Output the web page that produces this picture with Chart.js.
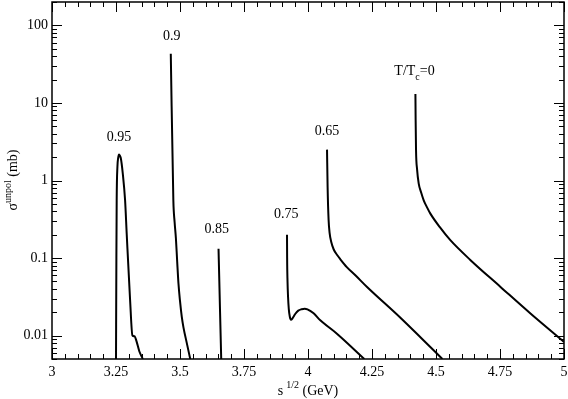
<!DOCTYPE html>
<html>
<head>
<meta charset="utf-8">
<script src="https://cdn.jsdelivr.net/npm/chart.js@4"></script>
<style>
  body { margin: 0; background: #fff; }
  #wrap { width: 568px; height: 399px; }
</style>
</head>
<body>
<div id="wrap"><canvas id="myChart" width="568" height="399"></canvas></div>
<script>
// tick labels
const xTicks = [3, 3.25, 3.5, 3.75, 4, 4.25, 4.5, 4.75, 5];
const xTickLabels = ["3", "3.25", "3.5", "3.75", "4", "4.25", "4.5", "4.75", "5"];
const yTicks = [0.01, 0.1, 1, 10, 100];
const yTickLabels = ["0.01", "0.1", "1", "10", "100"];

// curves, one per T/Tc
const t095x = [3.25, 3.2515, 3.2527, 3.2555, 3.2585, 3.262, 3.2655, 3.2687, 3.2765, 3.2855, 3.292, 3.305, 3.314, 3.322, 3.33, 3.341, 3.355];
const t095y = [0.005, 0.1, 0.556, 1.49, 1.95, 2.16, 2.08, 1.95, 1.23, 0.556, 0.2, 0.029, 0.0101, 0.0098, 0.0085, 0.0063, 0.005];

const t09x = [3.464, 3.474, 3.479, 3.484, 3.489, 3.494, 3.5, 3.507, 3.5135, 3.527, 3.54];
const t09y = [43, 0.556, 0.29, 0.18, 0.09, 0.047, 0.028, 0.0174, 0.0128, 0.0079, 0.005];

const t085x = [3.6505, 3.6536, 3.6565, 3.661];
const t085y = [0.132, 0.05, 0.02, 0.005];

const t075x = [3.918, 3.9185, 3.92, 3.922, 3.925, 3.929, 3.9335, 3.94, 3.95, 3.962, 3.975, 3.987, 3.998, 4.022, 4.048, 4.113, 4.22];
const t075y = [0.2, 0.1, 0.05, 0.032, 0.022, 0.0175, 0.016, 0.0168, 0.019, 0.021, 0.0219, 0.0223, 0.0218, 0.0194, 0.0158, 0.0106, 0.005];

const t065x = [4.0743, 4.0766, 4.0805, 4.0845, 4.0911, 4.1001, 4.1146, 4.1263, 4.1525, 4.185, 4.2307, 4.361, 4.443, 4.525];
const t065y = [2.5, 0.82, 0.31, 0.21, 0.16, 0.13, 0.1086, 0.0965, 0.076, 0.06, 0.0424, 0.017, 0.00925, 0.005];

const t0x = [4.4196, 4.4205, 4.422, 4.426, 4.4325, 4.442, 4.452, 4.465, 4.478, 4.515, 4.556, 4.635, 4.752, 4.869, 5.0];
const t0y = [13, 6, 2.45, 1.4, 0.91, 0.7, 0.556, 0.45, 0.374, 0.25, 0.17, 0.094, 0.0425, 0.0193, 0.0083];

// curve labels (text, x, y in data units)
const labelText = ["0.95", "0.9", "0.85", "0.75", "0.65", "T/Tc=0"];
const labelX = [3.262, 3.468, 3.644, 3.915, 4.074, 4.416];
const labelY = [3.64, 72, 0.233, 0.363, 4.3, 25.8];

const serif = "'Liberation Serif', 'DejaVu Serif', serif";

function pts(xs, ys) {
  return xs.map((x, i) => ({ x: x, y: ys[i] }));
}
function curve(xs, ys) {
  return {
    data: pts(xs, ys),
    showLine: true,
    borderColor: "#000",
    borderWidth: 2,
    pointRadius: 0,
    fill: false,
    cubicInterpolationMode: "monotone",
  };
}

// inward ticks, frame, curve labels and axis titles
const framePlugin = {
  id: "frame",
  afterDraw(chart) {
    const ctx = chart.ctx;
    const a = chart.chartArea;
    const xs = chart.scales.x;
    const ys = chart.scales.y;
    ctx.save();
    ctx.strokeStyle = "#000";
    ctx.lineWidth = 1.5;
    ctx.strokeRect(a.left, a.top, a.right - a.left, a.bottom - a.top);

    ctx.lineWidth = 1;
    ctx.beginPath();
    // x ticks: major every 0.25, minor every 0.05
    for (let i = 0; i <= 40; i++) {
      const v = 3 + i * 0.05;
      const px = Math.round(xs.getPixelForValue(v)) + 0.5;
      const len = i % 5 === 0 ? 10 : 5;
      ctx.moveTo(px, a.bottom);
      ctx.lineTo(px, a.bottom - len);
      ctx.moveTo(px, a.top);
      ctx.lineTo(px, a.top + len);
    }
    // y ticks: decades plus 2..9
    for (let d = -3; d <= 2; d++) {
      for (let m = 1; m <= 9; m++) {
        const v = m * Math.pow(10, d);
        if (v < ys.min || v > ys.max) continue;
        const py = Math.round(ys.getPixelForValue(v)) + 0.5;
        const len = m === 1 ? 10 : 5;
        ctx.moveTo(a.left, py);
        ctx.lineTo(a.left + len, py);
        ctx.moveTo(a.right, py);
        ctx.lineTo(a.right - len, py);
      }
    }
    ctx.stroke();

    // curve labels
    ctx.fillStyle = "#000";
    ctx.textBaseline = "middle";
    for (let i = 0; i < labelText.length; i++) {
      const px = xs.getPixelForValue(labelX[i]);
      const py = ys.getPixelForValue(labelY[i]);
      const t = labelText[i];
      if (t.indexOf("Tc") >= 0) {
        const parts = t.split("c");
        ctx.font = "14px " + serif;
        const w1 = ctx.measureText(parts[0]).width;
        const w3 = ctx.measureText(parts[1]).width;
        ctx.font = "10px " + serif;
        const w2 = ctx.measureText("c").width;
        let x0 = px - (w1 + w2 + w3) / 2;
        ctx.textAlign = "left";
        ctx.font = "14px " + serif;
        ctx.fillText(parts[0], x0, py);
        ctx.font = "10px " + serif;
        ctx.fillText("c", x0 + w1, py + 6);
        ctx.font = "14px " + serif;
        ctx.fillText(parts[1], x0 + w1 + w2, py);
      } else {
        ctx.textAlign = "center";
        ctx.font = "14px " + serif;
        ctx.fillText(t, px, py);
      }
    }

    // x title: s^1/2 (GeV)
    ctx.textBaseline = "alphabetic";
    ctx.textAlign = "left";
    ctx.font = "14px " + serif;
    const ws = ctx.measureText("s").width;
    const wg = ctx.measureText(" (GeV)").width;
    ctx.font = "10px " + serif;
    const wh = ctx.measureText("1/2").width;
    const cx = (a.left + a.right) / 2;
    let x0 = cx - (ws + 3 + wh + wg) / 2;
    ctx.font = "14px " + serif;
    ctx.fillText("s", x0, 395);
    ctx.font = "10px " + serif;
    ctx.fillText("1/2", x0 + ws + 3, 388);
    ctx.font = "14px " + serif;
    ctx.fillText(" (GeV)", x0 + ws + 3 + wh, 395);

    // y title: sigma^unpol (mb)
    ctx.translate(17, 180);
    ctx.rotate(-Math.PI / 2);
    ctx.font = "14px " + serif;
    const wsig = ctx.measureText("σ").width;
    const wmb = ctx.measureText(" (mb)").width;
    ctx.font = "10px " + serif;
    const wun = ctx.measureText("unpol").width;
    let y0 = -(wsig + wun + wmb) / 2;
    ctx.font = "14px " + serif;
    ctx.fillText("σ", y0, 0);
    ctx.font = "10px " + serif;
    ctx.fillText("unpol", y0 + wsig, -6);
    ctx.font = "14px " + serif;
    ctx.fillText(" (mb)", y0 + wsig + wun, 0);
    ctx.restore();
  },
};

const ctx = document.getElementById("myChart");

new Chart(ctx, {
  type: "scatter",
  data: {
    datasets: [
      curve(t095x, t095y),
      curve(t09x, t09y),
      curve(t085x, t085y),
      curve(t075x, t075y),
      curve(t065x, t065y),
      curve(t0x, t0y),
    ],
  },
  options: {
    responsive: false,
    devicePixelRatio: 1,
    animation: false,
    layout: { padding: { top: 2, right: 4, left: 0, bottom: 0 } },
    plugins: {
      legend: { display: false },
      tooltip: { enabled: false },
    },
    scales: {
      x: {
        type: "linear",
        min: 3,
        max: 5,
        afterBuildTicks: (scale) => {
          scale.ticks = xTicks.map((v) => ({ value: v }));
        },
        afterFit: (scale) => {
          scale.height = 40;
          scale.paddingLeft = 0;
          scale.paddingRight = 0;
        },
        ticks: {
          callback: (v) => xTickLabels[xTicks.indexOf(v)],
          font: { family: serif, size: 14 },
          color: "#000",
          padding: 5,
          maxRotation: 0,
          autoSkip: false,
        },
        grid: { display: false, drawTicks: false },
        border: { display: false },
      },
      y: {
        type: "logarithmic",
        min: 0.005,
        max: 200,
        afterBuildTicks: (scale) => {
          scale.ticks = yTicks.map((v) => ({ value: v }));
        },
        afterFit: (scale) => {
          scale.width = 52;
          scale.paddingTop = 0;
          scale.paddingBottom = 0;
        },
        ticks: {
          callback: (v) => yTickLabels[yTicks.indexOf(v)],
          font: { family: serif, size: 14 },
          color: "#000",
          padding: 4,
          autoSkip: false,
        },
        grid: { display: false, drawTicks: false },
        border: { display: false },
      },
    },
  },
  plugins: [framePlugin],
});
</script>
</body>
</html>
